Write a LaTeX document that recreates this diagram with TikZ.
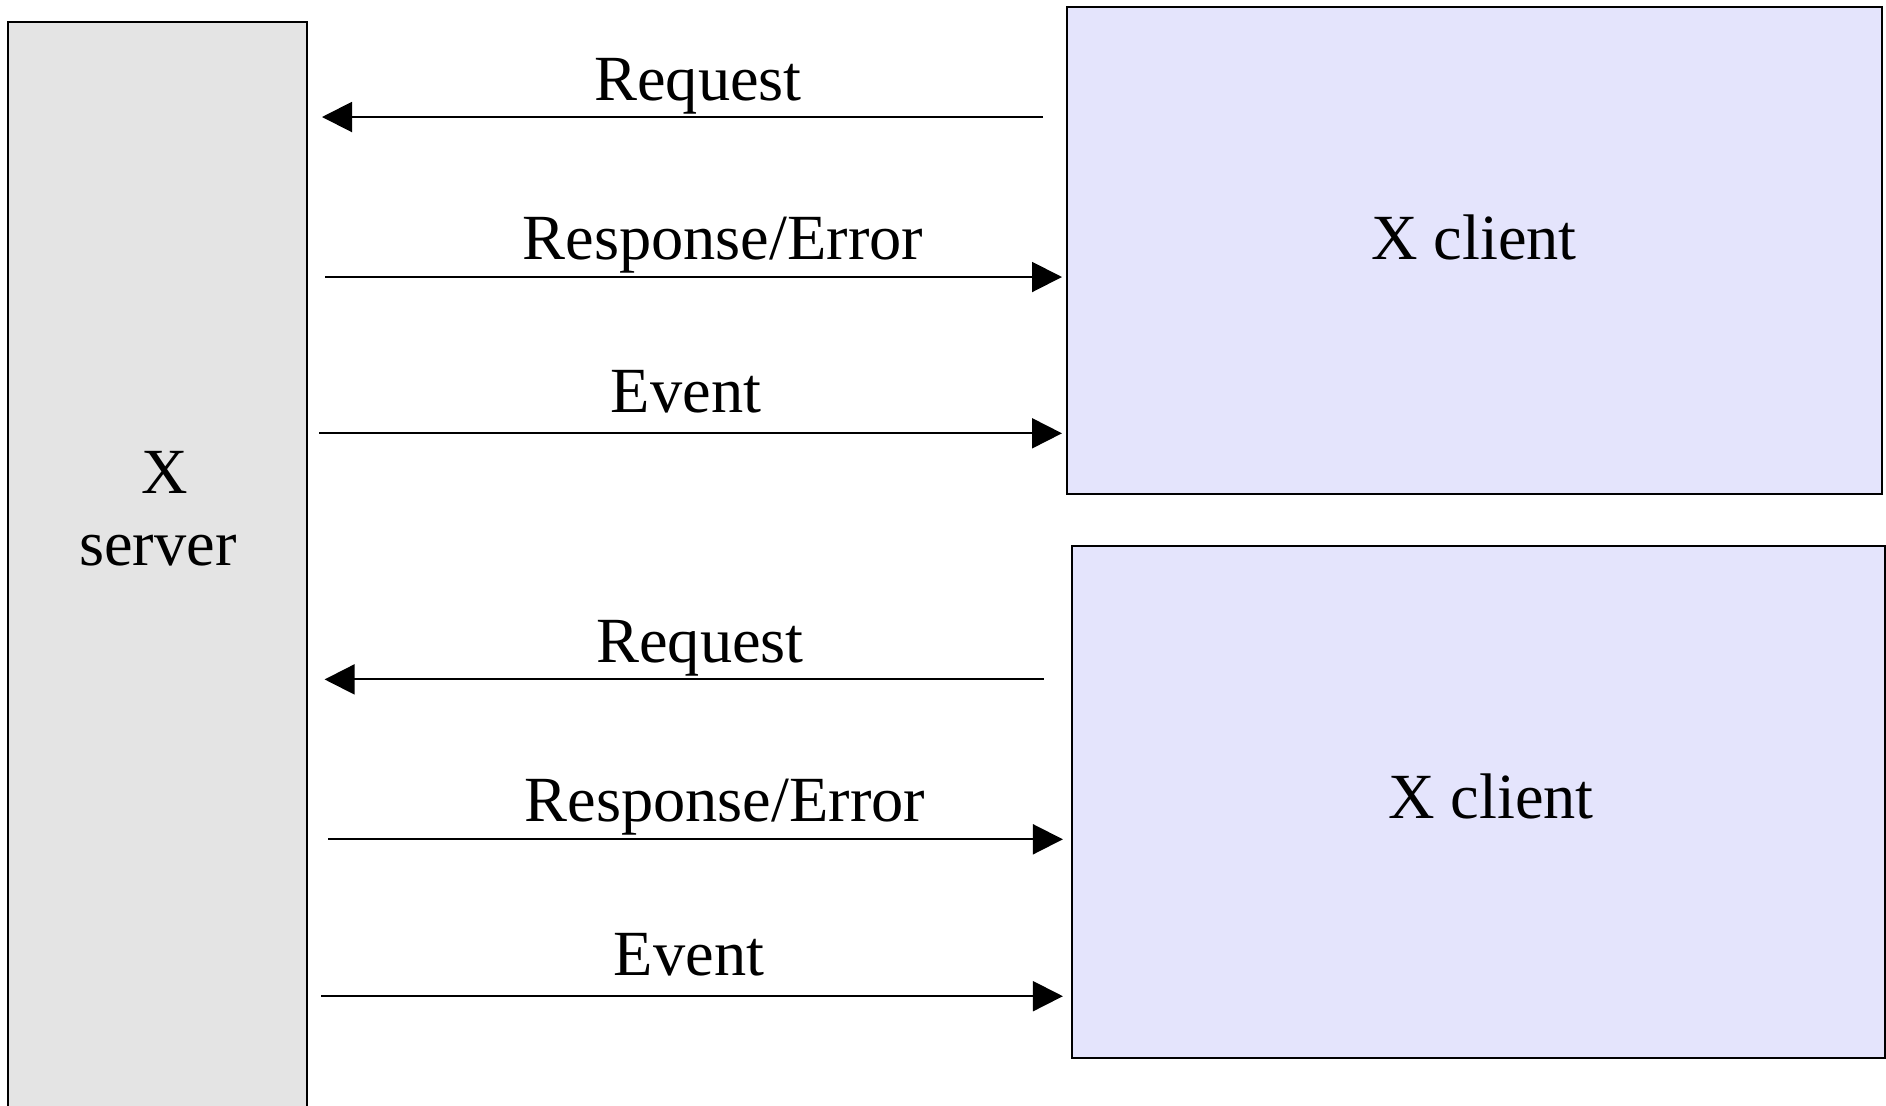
\documentclass[tikz,border=0pt]{standalone}
\usepackage{fontspec}
\setmainfont{Liberation Serif}
\usetikzlibrary{arrows.meta}
\definecolor{srvgray}{RGB}{228,228,228}
\definecolor{clilav}{RGB}{228,228,252}
\begin{document}
\begin{tikzpicture}[x=0.5pt,y=-0.5pt,
  box/.style={draw=black, line width=1pt, inner sep=0pt, anchor=center},
  srvbox/.style={box, fill=srvgray},
  clibox/.style={box, fill=clilav},
  lbl/.style={anchor=base, inner sep=0pt, font=\fontsize{32.2}{38}\selectfont},
  arr/.style={line width=1pt, -{Triangle[length=15pt,width=15pt]}}]
\useasboundingbox (0,0) rectangle (1886,1105);
\clip (0,0) rectangle (1886,1105);
% boxes
\node[srvbox, minimum width=149.35pt, minimum height=544.15pt] (srv) at (157.65,565.85) {};
\node[clibox, minimum width=407.45pt, minimum height=243.5pt] (c1) at (1474.25,250.5) {};
\node[clibox, minimum width=406.35pt, minimum height=255.8pt] (c2) at (1478.25,802.1) {};
% box labels
\node[lbl] (srvX) at (164.5,493.3) {X};
\node[lbl] (srvT) at (158,565.7) {server};
\node[lbl] (c1t) at (1474,259.6) {X client};
\node[lbl] (c2t) at (1491,818.5) {X client};
% arrow labels
\node[lbl] (rq1) at (698,100) {Request};
\node[lbl] (rs1) at (723,259.3) {Response/Error};
\node[lbl] (ev1) at (686,412.7) {Event};
\node[lbl] (rq2) at (700,662.7) {Request};
\node[lbl] (rs2) at (725,821) {Response/Error};
\node[lbl] (ev2) at (689,975.5) {Event};
% arrows
\draw[arr, shorten <=11.4pt, shorten >=7pt] (c1.west |- 0,117) -- (srv.east |- 0,117);
\draw[arr, shorten <=8.5pt, shorten >=1.9pt] (srv.east |- 0,277) -- (c1.west |- 0,277);
\draw[arr, shorten <=5.7pt, shorten >=1.9pt] (srv.east |- 0,433.3) -- (c1.west |- 0,433.3);
\draw[arr, shorten <=13.5pt, shorten >=8.3pt] (c2.west |- 0,679.4) -- (srv.east |- 0,679.4);
\draw[arr, shorten <=10pt, shorten >=4pt] (srv.east |- 0,839.3) -- (c2.west |- 0,839.3);
\draw[arr, shorten <=6.7pt, shorten >=4pt] (srv.east |- 0,996.2) -- (c2.west |- 0,996.2);
\end{tikzpicture}
\end{document}
